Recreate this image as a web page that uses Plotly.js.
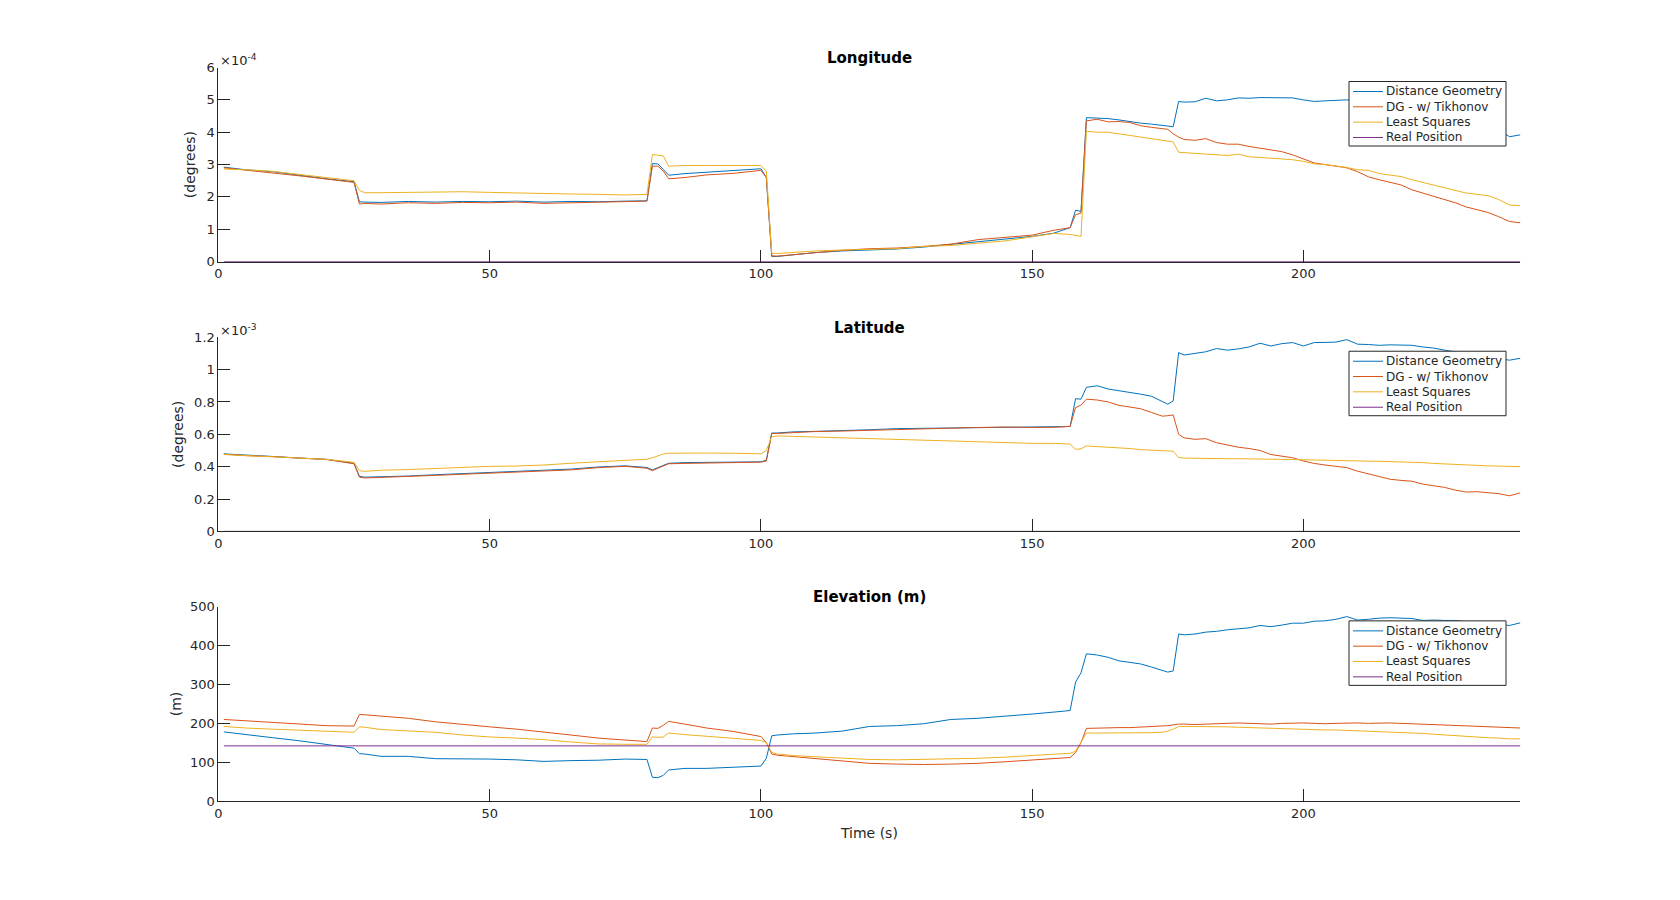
<!DOCTYPE html>
<html>
<head>
<meta charset="utf-8">
<script src="https://cdn.plot.ly/plotly-3.0.1.min.js"></script>
<style>
  body { margin: 0; background: #fff; }
  #plot { width: 1680px; height: 900px; }
</style>
</head>
<body>
<div id="plot"></div>
<script>
// time samples (s)
const T = [1, 5, 10, 15, 20, 25, 26, 27, 30, 35, 40, 45, 50, 55, 60, 65, 70, 75, 79, 80, 81, 82, 83, 86,
  90, 95, 100, 101, 102, 103, 106, 110, 115, 120, 125, 130, 135, 140, 145, 150, 154, 157, 158, 159, 160, 162, 164, 166,
  168, 170, 172, 174, 175, 176, 177, 178, 180, 182, 184, 186, 188, 190, 192, 194, 196, 198, 200, 202, 204, 206, 208, 210,
  212, 214, 216, 218, 220, 222, 224, 226, 228, 230, 232, 234, 236, 238, 240];

// longitude error, x10^-4 degrees
const lonDG = [2.92, 2.84, 2.78, 2.66, 2.56, 2.47, 1.85, 1.84, 1.83, 1.86, 1.84, 1.86, 1.85, 1.87, 1.84, 1.86, 1.85, 1.87,
  1.88, 3.03, 3.02, 2.85, 2.67, 2.72, 2.76, 2.82, 2.87, 2.6, 0.16, 0.16, 0.22, 0.28, 0.33, 0.36, 0.39, 0.45,
  0.53, 0.6, 0.68, 0.78, 0.88, 1.05, 1.59, 1.55, 4.45, 4.44, 4.42, 4.38, 4.32, 4.28, 4.25, 4.2, 4.18, 4.17,
  4.95, 4.93, 4.94, 5.05, 4.97, 5.0, 5.06, 5.05, 5.07, 5.07, 5.07, 5.06, 5.0, 4.95, 4.97, 4.99, 5.0, 4.98,
  4.97, 4.96, 4.93, 4.9, 4.85, 4.78, 4.7, 4.6, 4.5, 4.4, 4.3, 4.2, 4.08, 3.86, 3.92];
const lonTik = [2.9, 2.83, 2.76, 2.65, 2.55, 2.45, 1.78, 1.8, 1.78, 1.82, 1.8, 1.83, 1.82, 1.84, 1.8, 1.82, 1.83, 1.85,
  1.87, 2.95, 2.95, 2.8, 2.56, 2.6, 2.68, 2.73, 2.82, 2.6, 0.18, 0.17, 0.22, 0.27, 0.35, 0.4, 0.42, 0.47,
  0.54, 0.68, 0.75, 0.82, 0.97, 1.05, 1.45, 1.5, 4.35, 4.4, 4.32, 4.33, 4.3, 4.2, 4.15, 4.1, 4.09, 3.95,
  3.85, 3.78, 3.75, 3.8, 3.68, 3.63, 3.63, 3.56, 3.5, 3.46, 3.4, 3.3, 3.18, 3.05, 3.0, 2.96, 2.9, 2.78,
  2.62, 2.53, 2.45, 2.37, 2.22, 2.12, 2.02, 1.94, 1.82, 1.69, 1.6, 1.52, 1.39, 1.24, 1.2];
const lonLS = [2.86, 2.84, 2.79, 2.69, 2.58, 2.5, 2.2, 2.13, 2.13, 2.14, 2.14, 2.16, 2.14, 2.12, 2.09, 2.09, 2.08, 2.06,
  2.08, 3.31, 3.29, 3.27, 2.95, 2.97, 2.97, 2.98, 2.97, 2.8, 0.26, 0.25, 0.29, 0.33, 0.36, 0.38, 0.4, 0.47,
  0.5, 0.57, 0.64, 0.77, 0.87, 0.84, 0.8, 0.78, 4.03, 4.0, 4.0, 3.96, 3.9, 3.85, 3.8, 3.76, 3.72, 3.7,
  3.38, 3.37, 3.36, 3.34, 3.3, 3.28, 3.32, 3.24, 3.22, 3.2, 3.18, 3.15, 3.1, 3.02, 3.0, 2.96, 2.91, 2.84,
  2.82, 2.72, 2.68, 2.63, 2.53, 2.45, 2.37, 2.3, 2.2, 2.12, 2.08, 2.04, 1.92, 1.75, 1.73];

// latitude error, x10^-3 degrees
const latDG = [0.479, 0.47, 0.463, 0.453, 0.445, 0.42, 0.34, 0.335, 0.337, 0.342, 0.35, 0.356, 0.363, 0.368, 0.378, 0.385, 0.398, 0.405,
  0.395, 0.38, 0.395, 0.41, 0.421, 0.425, 0.427, 0.428, 0.43, 0.44, 0.608, 0.608, 0.615, 0.618, 0.622, 0.628, 0.635, 0.637,
  0.637, 0.64, 0.641, 0.643, 0.645, 0.648, 0.82, 0.817, 0.89, 0.9, 0.88, 0.87, 0.858, 0.848, 0.835, 0.8, 0.786, 0.806,
  1.105, 1.09, 1.1, 1.11, 1.13, 1.12, 1.128, 1.14, 1.163, 1.146, 1.16, 1.167, 1.146, 1.167, 1.168, 1.17, 1.185, 1.157,
  1.155, 1.15, 1.153, 1.152, 1.15, 1.14, 1.133, 1.12, 1.11, 1.1, 1.09, 1.08, 1.07, 1.058, 1.07];
const latTik = [0.477, 0.468, 0.462, 0.452, 0.444, 0.418, 0.335, 0.33, 0.333, 0.338, 0.346, 0.353, 0.36, 0.365, 0.375, 0.38, 0.394, 0.402,
  0.39, 0.375, 0.39, 0.405, 0.418, 0.42, 0.422, 0.425, 0.428, 0.435, 0.605, 0.605, 0.61, 0.617, 0.62, 0.625, 0.632, 0.635,
  0.638, 0.642, 0.645, 0.642, 0.643, 0.649, 0.765, 0.78, 0.817, 0.812, 0.8, 0.779, 0.77, 0.758, 0.735, 0.712, 0.715, 0.72,
  0.6, 0.578, 0.569, 0.573, 0.548, 0.535, 0.52, 0.512, 0.5, 0.475, 0.465, 0.455, 0.435, 0.42, 0.41, 0.4, 0.394, 0.372,
  0.355, 0.335, 0.322, 0.315, 0.31, 0.292, 0.28, 0.272, 0.255, 0.243, 0.245, 0.24, 0.233, 0.22, 0.238];
const latLS = [0.475, 0.468, 0.462, 0.452, 0.445, 0.427, 0.375, 0.371, 0.378, 0.382, 0.39, 0.398, 0.402, 0.404, 0.41, 0.421, 0.43, 0.437,
  0.446, 0.455, 0.465, 0.478, 0.483, 0.485, 0.484, 0.483, 0.479, 0.5, 0.585, 0.59, 0.587, 0.584, 0.578, 0.57, 0.565, 0.562,
  0.559, 0.553, 0.548, 0.544, 0.544, 0.54, 0.507, 0.51, 0.528, 0.525, 0.522, 0.518, 0.512, 0.505, 0.5, 0.498, 0.497, 0.495,
  0.456, 0.453, 0.451, 0.45, 0.449, 0.449, 0.449, 0.449, 0.449, 0.447, 0.445, 0.444, 0.442, 0.441, 0.44, 0.438, 0.436, 0.435,
  0.434, 0.433, 0.432, 0.431, 0.43, 0.425, 0.42, 0.416, 0.413, 0.41, 0.408, 0.405, 0.404, 0.401, 0.4];

// elevation (m)
const elevDG = [178, 172, 163, 155, 145, 136, 122, 121, 115, 115, 109, 109, 108, 106, 102, 104, 105, 108,
  107, 61, 60, 66, 80, 84, 84, 87, 90, 110, 168, 170, 173, 175, 180, 192, 194, 199,
  210, 213, 218, 224, 229, 233, 306, 330, 379, 376, 370, 361, 357, 353, 345, 336, 332, 335,
  430, 428, 430, 435, 437, 441, 443, 446, 452, 449, 453, 458, 458, 463, 464, 468, 475, 466,
  468, 471, 472, 471, 470, 465, 466, 465, 465, 462, 460, 458, 455, 452, 459];
const elevTik = [210, 207, 203, 199, 194, 193, 223, 222, 219, 213, 204, 197, 191, 185, 178, 170, 162, 156,
  153, 188, 187, 195, 205, 198, 188, 179, 166, 150, 121, 118, 114, 109, 102, 97, 95, 94,
  95, 97, 101, 105, 108, 112, 125, 150, 187, 188, 188, 189, 189, 190, 192, 193, 194, 196,
  198, 198, 197, 198, 199, 200, 201, 200, 199, 198, 200, 201, 201, 200, 199, 200, 201, 201,
  200, 201, 201, 200, 199, 198, 197, 196, 195, 194, 193, 192, 191, 190, 188];
const elevLS = [192, 188, 185, 182, 179, 177, 191, 190, 184, 181, 177, 170, 165, 162, 158, 152, 147, 146,
  146, 165, 164, 165, 175, 171, 167, 161, 156, 150, 125, 121, 117, 114, 110, 107, 106, 107,
  108, 110, 113, 117, 120, 123, 128, 150, 175, 175, 175, 175, 175, 176, 176, 177, 180, 185,
  192, 192, 192, 192, 191, 191, 190, 189, 188, 187, 186, 186, 185, 184, 183, 183, 182, 181,
  180, 179, 178, 177, 175, 174, 172, 170, 168, 166, 165, 163, 162, 160, 160];

// real position (same units as each panel)
const realLon = 0;
const realLat = 0;
const realElev = 142;

const names = ['Distance Geometry', 'DG - w/ Tikhonov', 'Least Squares', 'Real Position'];
const colors = ['#0072BD', '#D95319', '#EDB120', '#7E2F8E'];

const FONT = 'DejaVu Sans, Liberation Sans, Arial, sans-serif';
const INK = '#262626';

function panelTraces(series, axisIdx) {
  const sfx = axisIdx === 1 ? '' : String(axisIdx);
  return series.map((ys, i) => ({
    x: T,
    y: ys,
    type: 'scatter',
    mode: 'lines',
    name: names[i],
    line: { color: colors[i], width: 1 },
    xaxis: 'x' + sfx,
    yaxis: 'y' + sfx,
    showlegend: false,
    hoverinfo: 'skip'
  }));
}

const data = [
  ...panelTraces([lonDG, lonTik, lonLS, T.map(() => realLon)], 1),
  ...panelTraces([latDG, latTik, latLS, T.map(() => realLat)], 2),
  ...panelTraces([elevDG, elevTik, elevLS, T.map(() => realElev)], 3)
];

const W = 1680, H = 900;
const xDom = [0.13, 0.905];
const yDoms = [[0.7093, 0.925], [0.4096, 0.6253], [0.11, 0.3257]];

function xAxis(anchor, withTitle) {
  const ax = {
    domain: xDom, anchor: anchor, range: [0, 240],
    tickvals: [0, 50, 100, 150, 200],
    showline: true, linecolor: INK, linewidth: 1,
    ticks: 'inside', ticklen: 12, tickcolor: INK, tickwidth: 1,
    showgrid: false, zeroline: false,
    tickfont: { family: FONT, size: 13, color: INK }
  };
  if (withTitle) ax.title = { text: 'Time (s)', font: { family: FONT, size: 14, color: INK }, standoff: 8 };
  return ax;
}

function yAxis(dom, anchor, range, dtick, title, standoff) {
  return {
    domain: dom, anchor: anchor, range: range, dtick: dtick, tick0: 0,
    showline: true, linecolor: INK, linewidth: 1,
    ticks: 'inside', ticklen: 12, tickcolor: INK, tickwidth: 1,
    showgrid: false, zeroline: false,
    tickfont: { family: FONT, size: 13, color: INK },
    title: { text: title, font: { family: FONT, size: 14, color: INK }, standoff: standoff }
  };
}

const titles = ['Longitude', 'Latitude', 'Elevation (m)'];
const exps = ['×10<sup>-4</sup>', '×10<sup>-3</sup>', null];

const annotations = [];
const shapes = [];

// legend box geometry in pixels (MATLAB style, drawn by hand)
const legLeft = 1349, legRight = 1506, legOffset = 14, legHeight = 64.5;
const rowOffsets = [10, 25.3, 40.6, 56];
const px = v => v / W;
const py = v => 1 - v / H;

yDoms.forEach((d, i) => {
  annotations.push({
    text: '<b>' + titles[i] + '</b>', xref: 'paper', yref: 'paper',
    x: (xDom[0] + xDom[1]) / 2, y: d[1], xanchor: 'center', yanchor: 'bottom', yshift: -1.5,
    showarrow: false, font: { family: FONT, size: 15, color: '#000' }
  });
  if (exps[i]) {
    annotations.push({
      text: exps[i], xref: 'paper', yref: 'paper',
      x: xDom[0], y: d[1], xanchor: 'left', yanchor: 'bottom', yshift: -3,
      showarrow: false, font: { family: FONT, size: 13, color: INK }
    });
  }

  const top = (1 - d[1]) * H + legOffset;
  shapes.push({
    type: 'rect', xref: 'paper', yref: 'paper', layer: 'above',
    x0: px(legLeft), x1: px(legRight), y0: py(top), y1: py(top + legHeight),
    line: { color: INK, width: 1 }, fillcolor: '#ffffff'
  });
  names.forEach((nm, k) => {
    const yc = top + rowOffsets[k];
    shapes.push({
      type: 'line', xref: 'paper', yref: 'paper', layer: 'above',
      x0: px(legLeft + 4), x1: px(legLeft + 34), y0: py(yc), y1: py(yc),
      line: { color: colors[k], width: 1 }
    });
    annotations.push({
      text: nm, xref: 'paper', yref: 'paper',
      x: px(legLeft + 35), y: py(yc), xanchor: 'left', yanchor: 'middle',
      showarrow: false, font: { family: FONT, size: 12, color: INK }
    });
  });
});

const layout = {
  width: W, height: H,
  margin: { l: 0, r: 0, t: 0, b: 0 },
  paper_bgcolor: '#ffffff', plot_bgcolor: '#ffffff',
  font: { family: FONT, color: INK },
  showlegend: false,
  xaxis: xAxis('y', false),
  yaxis: yAxis(yDoms[0], 'x', [0, 6], 1, '(degrees)', 7),
  xaxis2: xAxis('y2', false),
  yaxis2: yAxis(yDoms[1], 'x2', [0, 1.2], 0.2, '(degrees)', 7),
  xaxis3: xAxis('y3', true),
  yaxis3: yAxis(yDoms[2], 'x3', [0, 500], 100, '(m)', 5),
  shapes: shapes,
  annotations: annotations
};

Plotly.newPlot('plot', data, layout, { displayModeBar: false, staticPlot: true });
</script>
</body>
</html>
